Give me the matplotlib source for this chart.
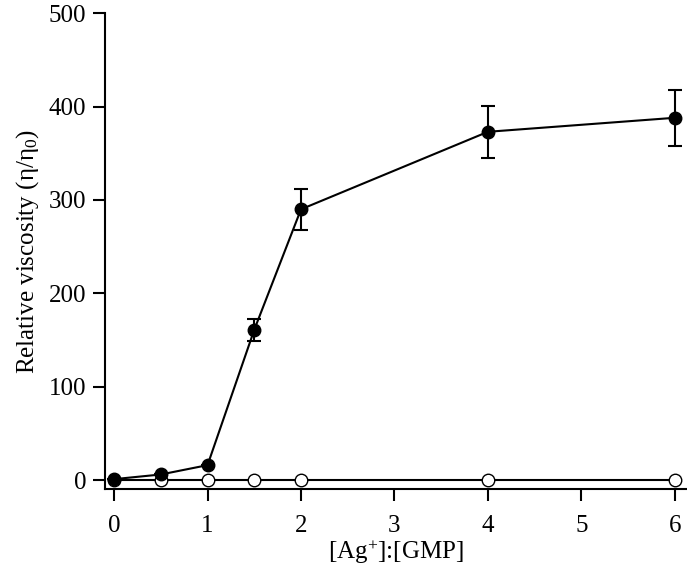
import numpy as np
import matplotlib
matplotlib.use("Agg")
import matplotlib.pyplot as plt

plt.rcParams['font.family'] = ['Liberation Serif', 'DejaVu Serif']
plt.rcParams['mathtext.fontset'] = 'custom'
plt.rcParams['mathtext.rm'] = 'Liberation Serif'
plt.rcParams['mathtext.it'] = 'Liberation Serif'

# data
ratio = [0, 0.5, 1, 1.5, 2, 4, 6]
visc_ag = [1, 6, 16, 161, 290, 373, 388]
visc_err = [0, 0, 0, 12, 22, 28, 30]
ratio_ctrl = [0, 0.5, 1, 1.5, 2, 4, 6]
visc_ctrl = [0, 0, 0, 0, 0, 0, 0]

fig = plt.figure(figsize=(6.87, 5.74), dpi=100)
ax = fig.add_axes([0.153, 0.148, 0.847, 0.829])

# control series (open circles)
ax.plot(ratio_ctrl, visc_ctrl, color='black', lw=1.5, marker='o', ms=9,
        mfc='white', mec='black', mew=1.0, zorder=2)

# Ag+ series with error bars
ax.errorbar(ratio, visc_ag, yerr=visc_err, color='black', lw=1.5, marker='o',
            ms=9, mfc='black', mec='black', capsize=5, capthick=1.5,
            elinewidth=1.5, zorder=3)

ax.set_xlim(-0.096, 6.13)
ax.set_ylim(-9.6, 500)
ax.set_xticks([0, 1, 2, 3, 4, 5, 6])
ax.set_yticks([0, 100, 200, 300, 400, 500])

for s in ['top', 'right']:
    ax.spines[s].set_visible(False)
for s in ['left', 'bottom']:
    ax.spines[s].set_linewidth(1.5)

ax.tick_params(direction='out', length=8.5, width=1.5, labelsize=18, pad=5)
ax.tick_params(axis='x', pad=10)
ax.set_xlabel('[Ag$^{+}$]:[GMP]', fontsize=18, labelpad=1)
ax.set_ylabel('Relative viscosity (η/η$_{0}$)', fontsize=18, labelpad=6)

fig.savefig('out.png', dpi=100)
